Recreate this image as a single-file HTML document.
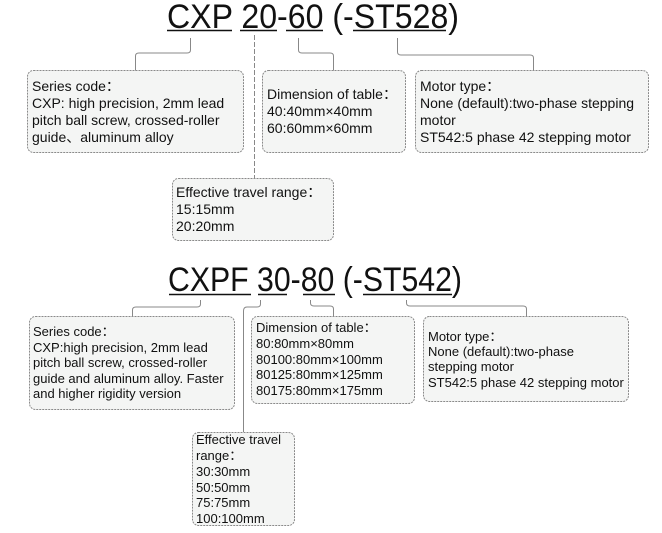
<!DOCTYPE html>
<html><head><meta charset="utf-8"><style>
html,body{margin:0;padding:0;background:#fff;}
svg{display:block;}
text{font-family:"Liberation Sans",Arial,sans-serif;fill:#111;}
.t{font-size:13px;}
.t2{font-size:14px;}
.b{fill:#f4f5f4;stroke:#8a8a8a;stroke-width:1;stroke-dasharray:2 1;}
.c{fill:none;stroke:#888;stroke-width:1;}
.u{stroke:#111;stroke-width:1.6;}
</style></head><body>
<svg width="662" height="533" viewBox="0 0 662 533">
<text x="167" y="28" font-size="34" textLength="292" lengthAdjust="spacingAndGlyphs">CXP 20-60 (-ST528)</text>
<line class="u" x1="167" y1="30.5" x2="232" y2="30.5"/>
<line class="u" x1="240" y1="30.5" x2="277" y2="30.5"/>
<line class="u" x1="286" y1="30.5" x2="323" y2="30.5"/>
<line class="u" x1="353" y1="30.5" x2="446" y2="30.5"/>
<path class="c" d="M190.5 38 V50 Q190.5 53 187 53 H139 Q135.5 53 135.5 56 V71"/>
<path class="c" d="M254.5 35 V178" stroke-dasharray="5 2"/>
<path class="c" d="M298.5 38 V50 Q298.5 53 302 53 H330 Q333.5 53 333.5 56 V71"/>
<path class="c" d="M397.5 38 V52 Q397.5 55 401 55 H530 Q533.5 55 533.5 58 V71"/>

<rect class="b" x="27.5" y="70.5" width="216" height="82" rx="6"/>
<text class="t2" x="32" y="91">Series code：</text>
<text class="t2" x="32" y="108">CXP:  high precision, 2mm lead</text>
<text class="t2" x="32" y="125">pitch ball screw, crossed-roller</text>
<text class="t2" x="32" y="142">guide、aluminum alloy</text>

<rect class="b" x="262.5" y="70.5" width="143" height="82" rx="6"/>
<text class="t2" x="267" y="99">Dimension of table：</text>
<text class="t2" x="267" y="116">40:40mm×40mm</text>
<text class="t2" x="267" y="133">60:60mm×60mm</text>

<rect class="b" x="415.5" y="70.5" width="233" height="82" rx="6"/>
<text class="t2" x="420" y="91">Motor type：</text>
<text class="t2" x="420" y="108">None (default):two-phase stepping</text>
<text class="t2" x="420" y="125">motor</text>
<text class="t2" x="420" y="142">ST542:5 phase 42 stepping motor</text>

<rect class="b" x="172.5" y="178.5" width="161" height="62" rx="6"/>
<text class="t2" x="176" y="197">Effective travel range：</text>
<text class="t2" x="176" y="214">15:15mm</text>
<text class="t2" x="176" y="231">20:20mm</text>

<text x="168" y="291" font-size="34" textLength="294" lengthAdjust="spacingAndGlyphs">CXPF 30-80 (-ST542)</text>
<line class="u" x1="169" y1="294.5" x2="251" y2="294.5"/>
<line class="u" x1="258" y1="294.5" x2="287" y2="294.5"/>
<line class="u" x1="303" y1="294.5" x2="335" y2="294.5"/>
<line class="u" x1="363" y1="294.5" x2="452" y2="294.5"/>
<path class="c" d="M200.5 300 V304 Q200.5 307 197 307 H136 Q132.5 307 132.5 310 V316"/>
<path class="c" d="M260.5 300 V304 Q260.5 307 257 307 H247 Q243.5 307 243.5 311 V432"/>
<path class="c" d="M310.5 300 V303 Q310.5 306 314 306 H330 Q333.5 306 333.5 309 V316"/>
<path class="c" d="M406.5 300 V303 Q406.5 306 410 306 H523 Q526.5 306 526.5 309 V316"/>

<rect class="b" x="29.5" y="316.5" width="205" height="93" rx="6"/>
<text class="t" x="33" y="336">Series code：</text>
<text class="t" x="33" y="352">CXP:high precision, 2mm lead</text>
<text class="t" x="33" y="367">pitch ball screw, crossed-roller</text>
<text class="t" x="33" y="383">guide and aluminum alloy. Faster</text>
<text class="t" x="33" y="398">and higher rigidity version</text>

<rect class="b" x="251.5" y="316.5" width="163" height="87" rx="6"/>
<text class="t" x="256" y="332">Dimension of table：</text>
<text class="t" x="256" y="348">80:80mm×80mm</text>
<text class="t" x="256" y="364">80100:80mm×100mm</text>
<text class="t" x="256" y="379">80125:80mm×125mm</text>
<text class="t" x="256" y="395">80175:80mm×175mm</text>

<rect class="b" x="423.5" y="316.5" width="205" height="85" rx="6"/>
<text class="t" x="428" y="341">Motor type：</text>
<text class="t" x="428" y="356">None (default):two-phase</text>
<text class="t" x="428" y="371">stepping motor</text>
<text class="t" x="428" y="387">ST542:5 phase 42 stepping motor</text>

<rect class="b" x="192.5" y="432.5" width="102" height="93" rx="6"/>
<text class="t" x="196" y="444">Effective travel</text>
<text class="t" x="196" y="460">range：</text>
<text class="t" x="196" y="476">30:30mm</text>
<text class="t" x="196" y="492">50:50mm</text>
<text class="t" x="196" y="507">75:75mm</text>
<text class="t" x="196" y="523">100:100mm</text>
</svg>
</body></html>
